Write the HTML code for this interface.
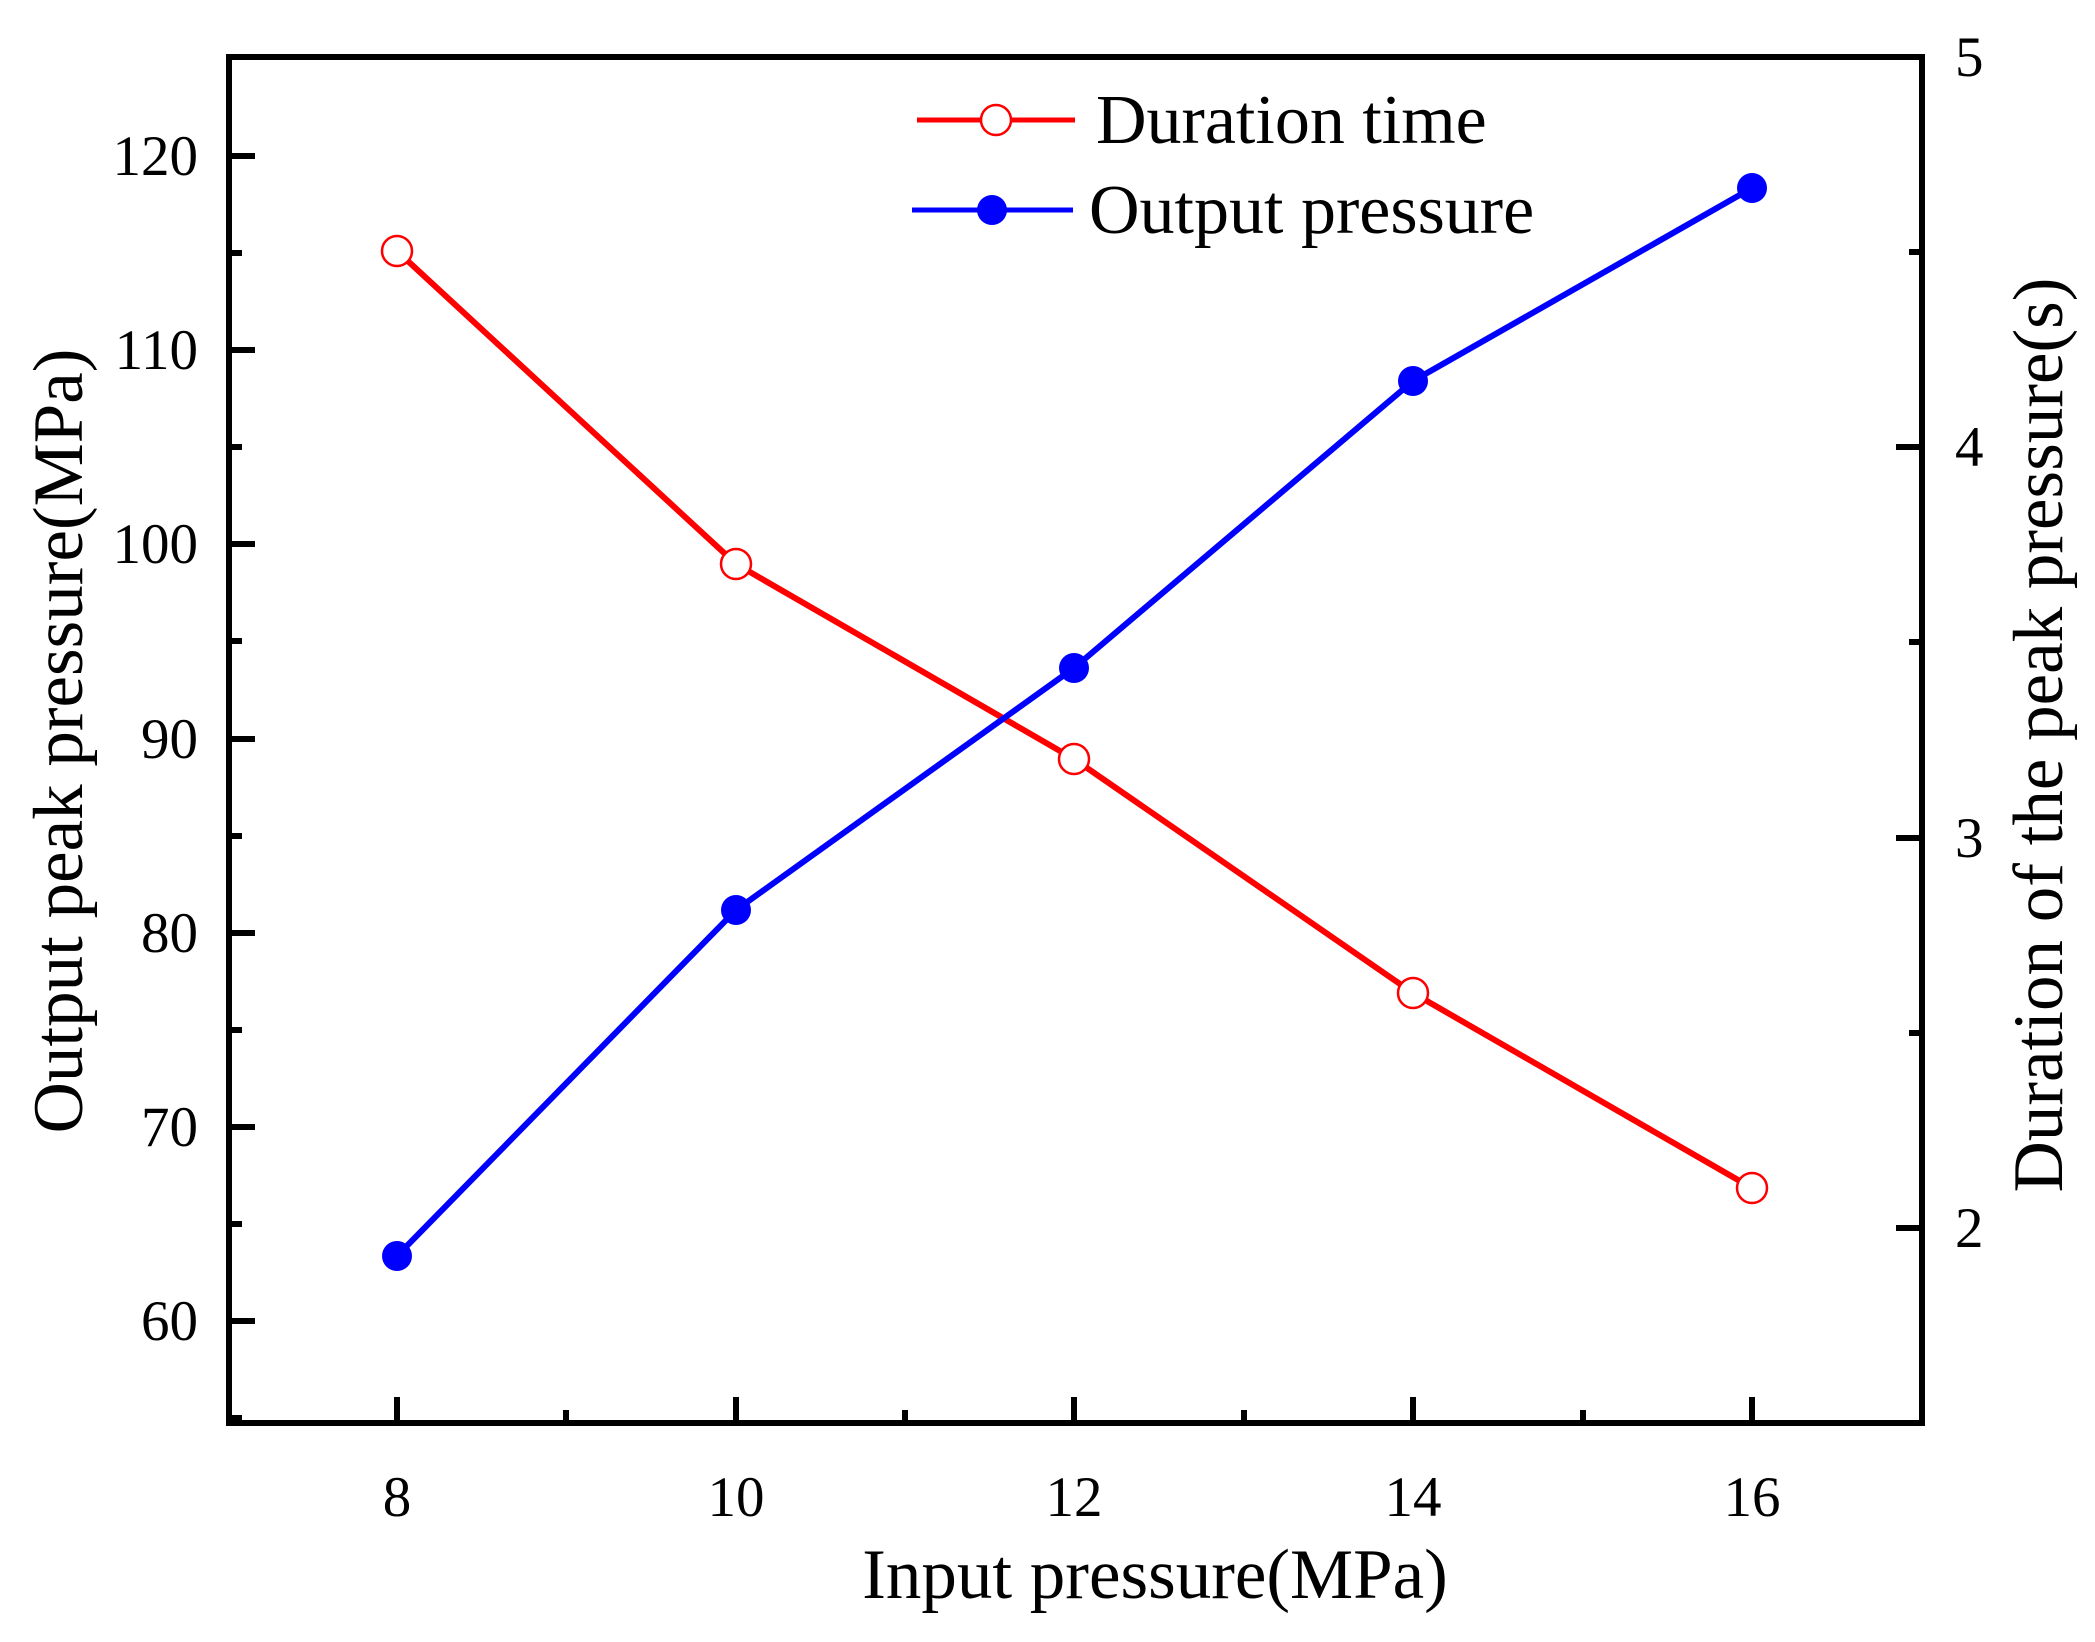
<!DOCTYPE html>
<html><head><meta charset="utf-8"><style>html,body{margin:0;padding:0;background:#fff}</style></head>
<body>
<svg width="2095" height="1637" viewBox="0 0 2095 1637" xmlns="http://www.w3.org/2000/svg" font-family="Liberation Serif, serif">
<rect width="2095" height="1637" fill="#fff"/>
<g stroke="#000" stroke-width="6" fill="none">
<rect x="229" y="57" width="1693" height="1366"/>
<path d="M229 156h26M229 350h26M229 544h26M229 739h26M229 933h26M229 1127h26M229 1321h26"/>
<path d="M229 253h13M229 447h13M229 641h13M229 836h13M229 1030h13M229 1224h13M229 1418h13"/>
<path d="M1922 57h-26M1922 447h-26M1922 838h-26M1922 1228h-26"/>
<path d="M1922 252h-13M1922 642h-13M1922 1033h-13M1922 1423h-13"/>
<path d="M397 1423v-26M736 1423v-26M1074 1423v-26M1413 1423v-26M1752 1423v-26"/>
<path d="M566 1423v-13M905 1423v-13M1244 1423v-13M1583 1423v-13"/>
</g>
<g font-size="57" fill="#000">
<g text-anchor="end">
<text x="198" y="175">120</text><text x="198" y="369">110</text><text x="198" y="563">100</text>
<text x="198" y="758">90</text><text x="198" y="952">80</text><text x="198" y="1146">70</text><text x="198" y="1340">60</text>
</g>
<text x="1955" y="76">5</text><text x="1955" y="466">4</text><text x="1955" y="857">3</text><text x="1955" y="1247">2</text>
<g text-anchor="middle">
<text x="397" y="1516">8</text><text x="736" y="1516">10</text><text x="1074" y="1516">12</text><text x="1413" y="1516">14</text><text x="1752" y="1516">16</text>
</g>
</g>
<g font-size="71" fill="#000" text-anchor="middle">
<text x="1155" y="1598">Input pressure(MPa)</text>
<text transform="translate(82,741) rotate(-90)">Output peak pressure(MPa)</text>
<text transform="translate(2062,735) rotate(-90)">Duration of the peak pressure(s)</text>
</g>
<polyline points="397,251 736,564 1074,759 1413,993 1752,1188" fill="none" stroke="#f00" stroke-width="6"/>
<polyline points="397,1256 736,910 1074,668 1413,381 1752,188" fill="none" stroke="#00f" stroke-width="6"/>
<g fill="#fff" stroke="#f00" stroke-width="2.5">
<circle cx="397" cy="251" r="15"/><circle cx="736" cy="564" r="15"/><circle cx="1074" cy="759" r="15"/><circle cx="1413" cy="993" r="15"/><circle cx="1752" cy="1188" r="15"/>
</g>
<g fill="#00f">
<circle cx="397" cy="1256" r="15"/><circle cx="736" cy="910" r="15"/><circle cx="1074" cy="668" r="15"/><circle cx="1413" cy="381" r="15"/><circle cx="1752" cy="188" r="15"/>
</g>
<line x1="917" y1="120" x2="1075" y2="120" stroke="#f00" stroke-width="5"/>
<circle cx="996" cy="120" r="15" fill="#fff" stroke="#f00" stroke-width="2.5"/>
<line x1="912" y1="210" x2="1073" y2="210" stroke="#00f" stroke-width="5"/>
<circle cx="992" cy="210" r="15" fill="#00f"/>
<g font-size="70" fill="#000">
<text x="1096" y="143">Duration time</text>
<text x="1089" y="233">Output pressure</text>
</g>
</svg>
</body></html>
